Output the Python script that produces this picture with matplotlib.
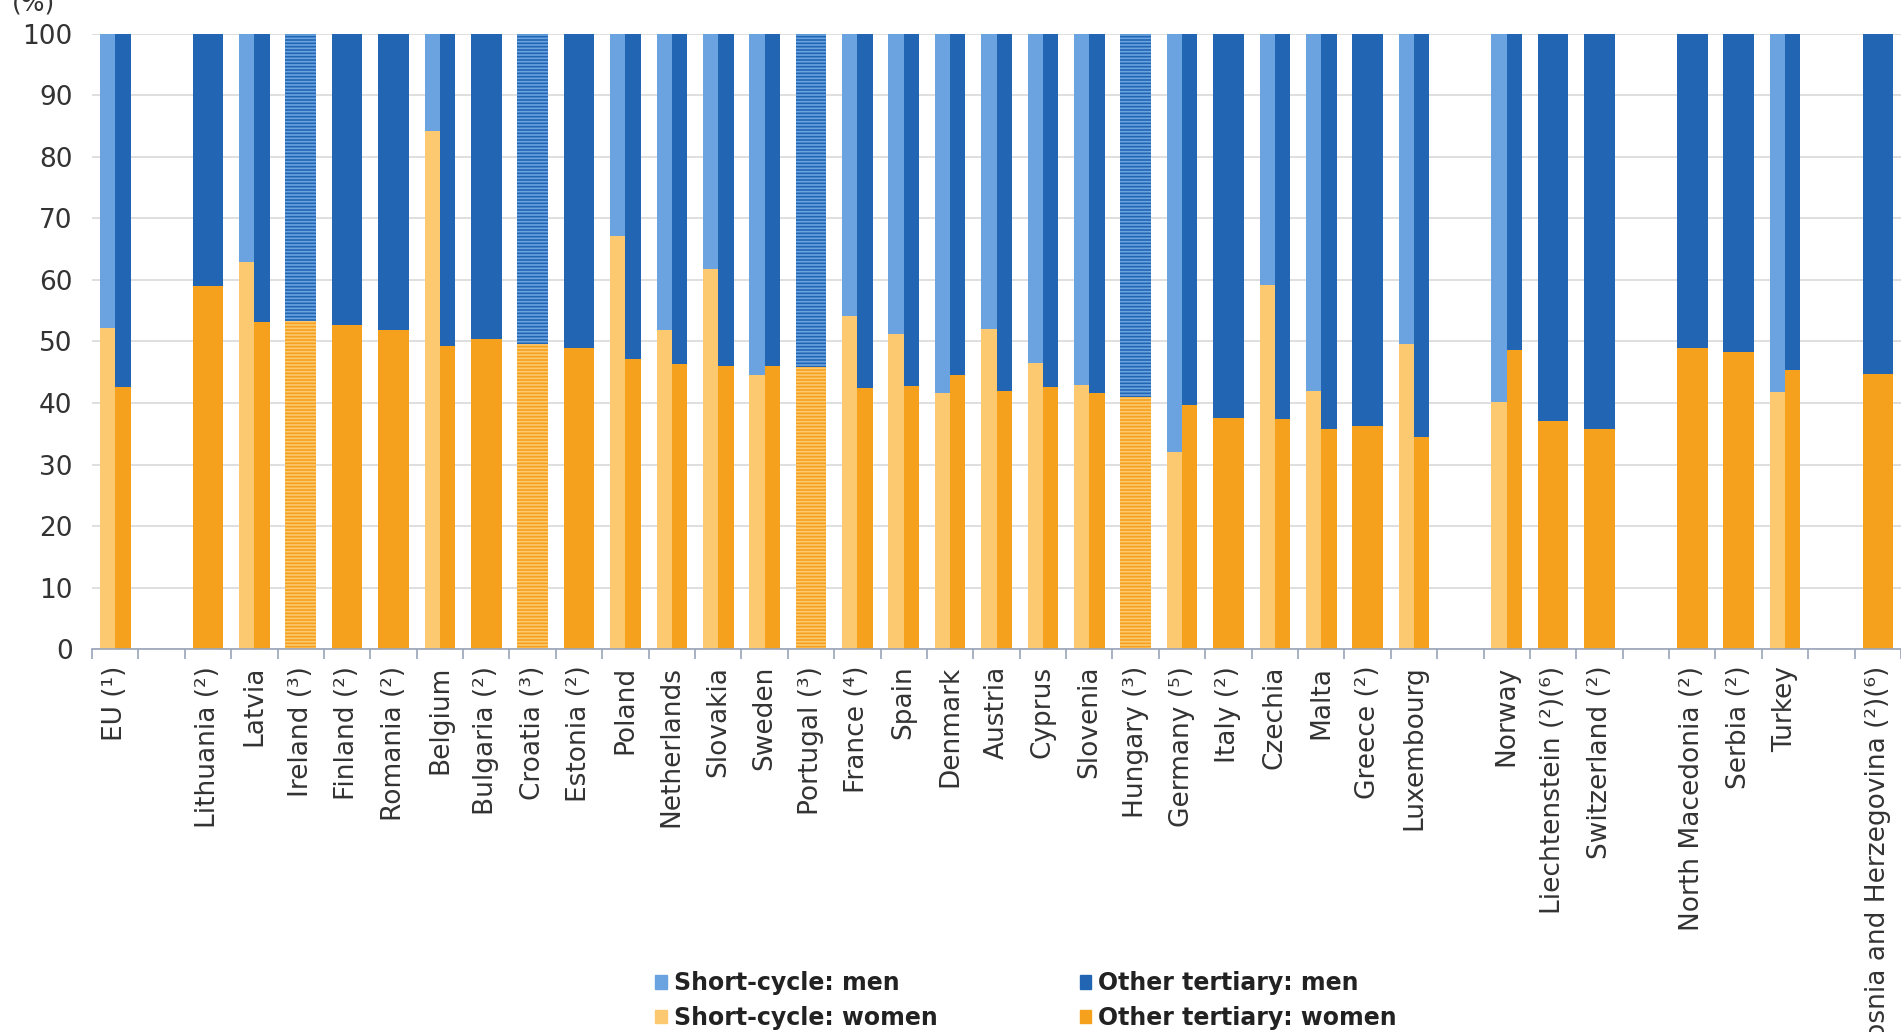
import numpy as np
import matplotlib
matplotlib.use('Agg')
import matplotlib.pyplot as plt
from matplotlib.patches import Patch

# Dados: participação das mulheres (%) em cada tipo de ensino superior
# (homens = 100 - mulheres). nan = sem dados para aquele tipo.
nan = np.nan

grupo_ue = ['EU (¹)']
grupo_paises = ['Lithuania (²)', 'Latvia', 'Ireland (³)', 'Finland (²)', 'Romania (²)',
                'Belgium', 'Bulgaria (²)', 'Croatia (³)', 'Estonia (²)', 'Poland',
                'Netherlands', 'Slovakia', 'Sweden', 'Portugal (³)', 'France (⁴)',
                'Spain', 'Denmark', 'Austria', 'Cyprus', 'Slovenia', 'Hungary (³)',
                'Germany (⁵)', 'Italy (²)', 'Czechia', 'Malta', 'Greece (²)', 'Luxembourg']
grupo_efta = ['Norway', 'Liechtenstein (²)(⁶)', 'Switzerland (²)']
grupo_candidatos = ['North Macedonia (²)', 'Serbia (²)', 'Turkey']
grupo_outros = ['Bosnia and Herzegovina (²)(⁶)']

curto_mulheres = [52.2,
                  nan, 63.0, nan, nan, nan, 84.2, nan, nan, nan, 67.2, 51.8, 61.8, 44.5,
                  nan, 54.2, 51.2, 41.7, 52.0, 46.5, 43.0, nan, 32.0, nan, 59.2, 42.0,
                  nan, 49.6,
                  40.2, nan, nan,
                  nan, nan, 41.8,
                  nan]
outro_mulheres = [42.6,
                  59.0, 53.2, nan, 52.7, 51.8, 49.2, 50.4, nan, 48.9, 47.1, 46.4, 46.0,
                  46.0, nan, 42.5, 42.8, 44.6, 42.0, 42.6, 41.6, nan, 39.6, 37.6, 37.4,
                  35.8, 36.2, 34.4,
                  48.6, 37.0, 35.7,
                  48.9, 48.3, 45.3,
                  44.7]
# países sem separação entre os dois tipos (barra hachurada)
total_mulheres = [nan,
                  nan, nan, 53.4, nan, nan, nan, nan, 49.6, nan, nan, nan, nan, nan,
                  45.8, nan, nan, nan, nan, nan, nan, 40.9, nan, nan, nan, nan, nan, nan,
                  nan, nan, nan,
                  nan, nan, nan,
                  nan]

# Cores
azul_claro = '#6aa3e0'
azul_escuro = '#2266b3'
laranja_claro = '#fcc870'
laranja = '#f6a11e'


def posicoes(grupos):
    pos, nomes, x = [], [], 0
    for g in grupos:
        for nome in g:
            pos.append(x)
            nomes.append(nome)
            x += 1
        x += 1
    return np.array(pos), nomes, x - 1


def grafico():
    grupos = [grupo_ue, grupo_paises, grupo_efta, grupo_candidatos, grupo_outros]
    x, nomes, n_slots = posicoes(grupos)

    fig = plt.figure(figsize=(19.01, 10.32), dpi=100)
    ax = fig.add_axes([0.0484, 0.3711, 0.9516, 0.596])

    w = 0.33
    plt.rcParams['hatch.linewidth'] = 1.2
    for i, xi in enumerate(x):
        sc = curto_mulheres[i]
        ot = outro_mulheres[i]
        tot = total_mulheres[i]
        if not np.isnan(tot):
            ax.bar(xi, tot, width=2 * w, color=laranja, edgecolor=laranja_claro,
                   hatch='-----', linewidth=0)
            ax.bar(xi, 100 - tot, bottom=tot, width=2 * w, color=azul_escuro,
                   edgecolor=azul_claro, hatch='-----', linewidth=0)
        elif np.isnan(sc):
            ax.bar(xi, ot, width=2 * w, color=laranja, linewidth=0)
            ax.bar(xi, 100 - ot, bottom=ot, width=2 * w, color=azul_escuro, linewidth=0)
        else:
            ax.bar(xi - w / 2, sc, width=w, color=laranja_claro, linewidth=0)
            ax.bar(xi - w / 2, 100 - sc, bottom=sc, width=w, color=azul_claro, linewidth=0)
            ax.bar(xi + w / 2, ot, width=w, color=laranja, linewidth=0)
            ax.bar(xi + w / 2, 100 - ot, bottom=ot, width=w, color=azul_escuro, linewidth=0)

    ax.set_xlim(-0.5, n_slots - 0.5)
    ax.set_ylim(0, 100)
    ax.set_yticks(range(0, 101, 10))
    ax.yaxis.grid(True, color='#d9d9d9', linewidth=1.2)
    ax.set_axisbelow(True)
    for s in ['top', 'right', 'left']:
        ax.spines[s].set_visible(False)
    ax.spines['bottom'].set_color('#9aa4b8')
    ax.spines['bottom'].set_linewidth(1.2)

    ax.set_xticks(x)
    ax.set_xticklabels(nomes, rotation=90, fontsize=19, color='#333333')
    ax.set_xticks(np.arange(-0.5, n_slots, 1.0), minor=True)
    ax.tick_params(axis='x', which='major', length=0, pad=12)
    ax.tick_params(axis='x', which='minor', length=7, color='#9aa4b8', width=1.2)
    ax.tick_params(axis='y', length=0, pad=14, labelsize=19, labelcolor='#333333')

    fig.text(0.006, 0.997, '(%)', fontsize=18, color='#333333', va='center')

    handles = [Patch(color=azul_claro, label='Short-cycle: men'),
               Patch(color=laranja_claro, label='Short-cycle: women'),
               Patch(color=azul_escuro, label='Other tertiary: men'),
               Patch(color=laranja, label='Other tertiary: women')]
    fig.legend(handles=handles, ncol=2, loc='upper left',
               bbox_to_anchor=(634 / 1901, 1 - 950 / 1032), frameon=False,
               prop={'size': 17, 'weight': 'bold'}, handlelength=0.5, handleheight=0.5,
               handletextpad=0.3, columnspacing=6.0, labelspacing=0.45,
               labelcolor='#222222')

    fig.savefig('out.png', dpi=100)


if __name__ == "__main__":
    grafico()
